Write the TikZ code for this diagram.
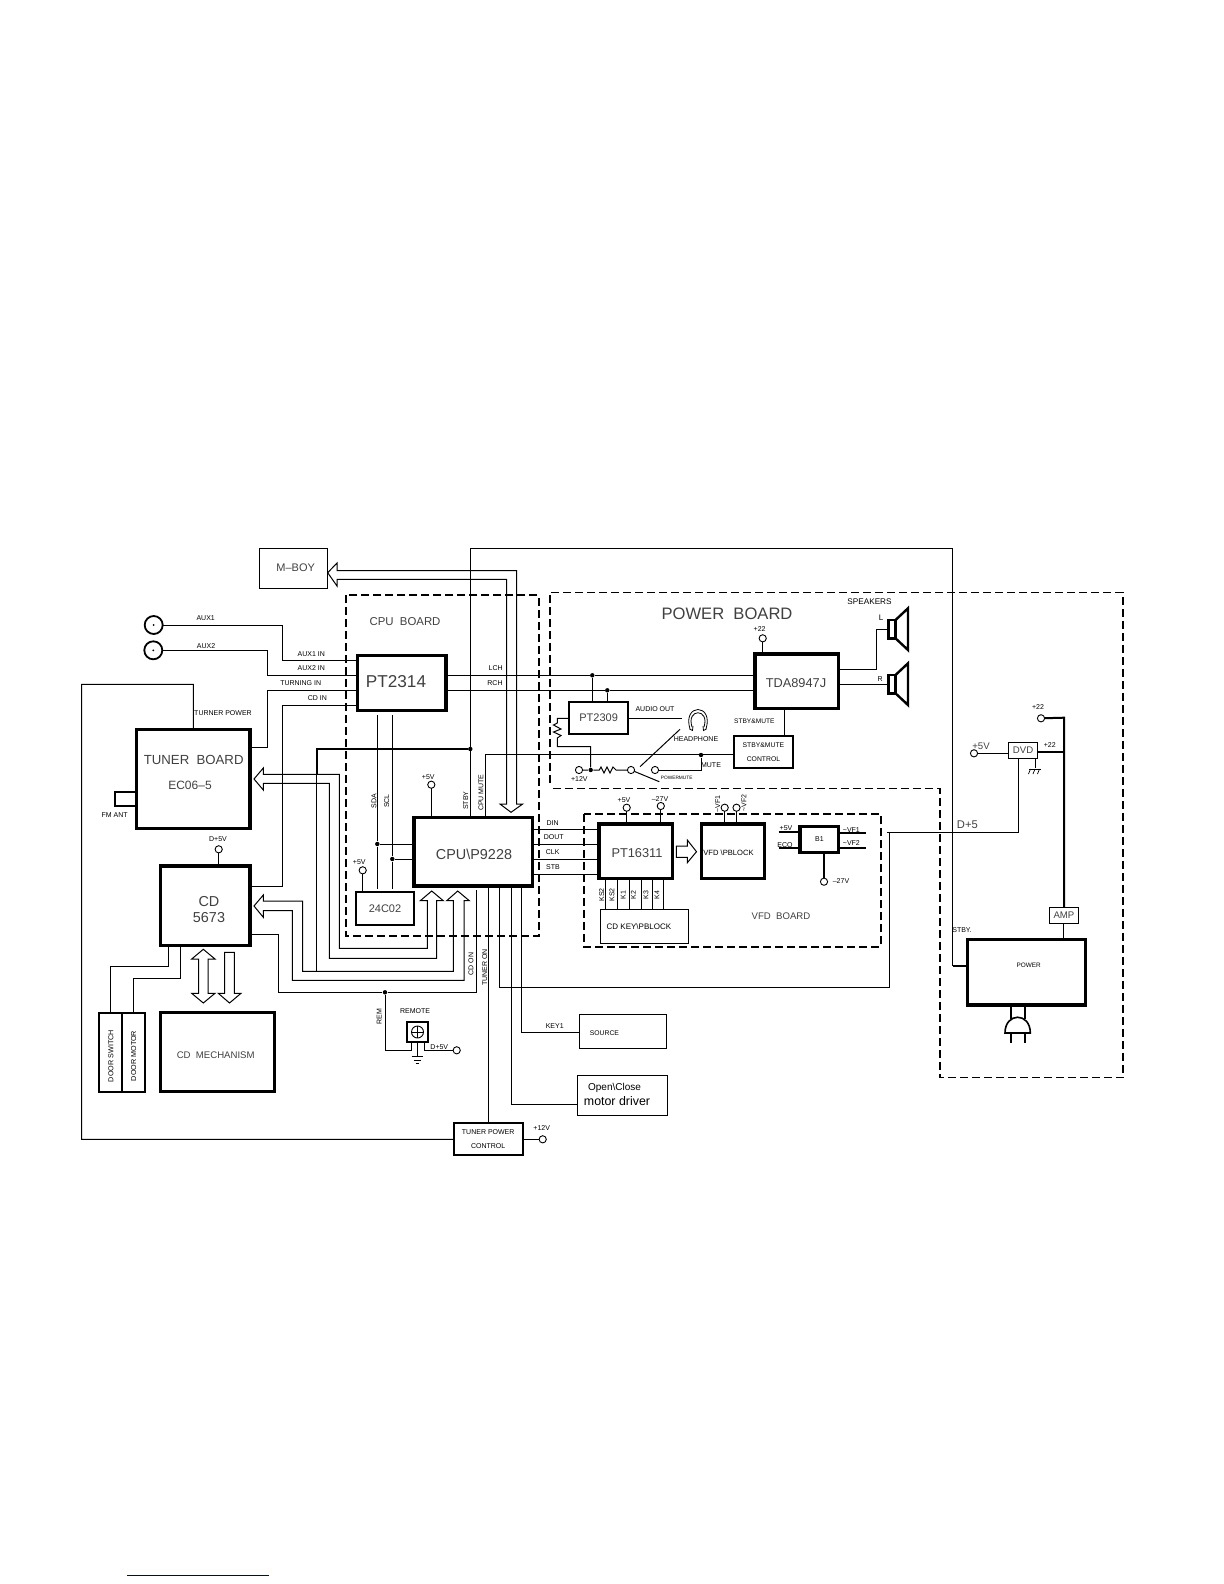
\documentclass[tikz,border=0pt]{standalone}
\usepackage{fontspec}
\setmainfont{Liberation Sans}
\usetikzlibrary{calc}

\begin{document}
\begin{tikzpicture}[
            x=0.5pt, y=-0.5pt,
            fs/.style={font=\fontsize{#1}{7}\selectfont},
            wh/.style 2 args={minimum width=#1*0.5pt, minimum height=#2*0.5pt},
            thinbox/.style={draw, line width=0.55pt, inner sep=0pt, outer sep=0pt},
            midbox/.style={draw, line width=1pt, inner sep=0pt, outer sep=0pt},
            icbox/.style={draw, line width=1.6pt, inner sep=0pt, outer sep=0pt},
            lab/.style={fs=3.5, inner sep=0pt},
            rlab/.style={fs=3.5, inner sep=0pt, rotate=90},
            big/.style={text=black!75},
            sig/.style={line width=0.5pt},
            sigthick/.style={line width=1pt},
            board/.style={dashed, dash pattern=on 4pt off 2pt, line width=1pt},
            term/.style={draw, circle, line width=0.45pt, inner sep=0pt, outer sep=0pt, minimum size=3.6pt},
            jack/.style={draw, circle, line width=0.9pt, inner sep=0pt, outer sep=0pt, minimum size=9pt},
            jdot/.style={fill, circle, inner sep=0pt, minimum size=2.2pt}
        ]
        \useasboundingbox (0,0) rectangle (1224,1584);

        % --- boards ---
        \draw[board] (346,595) rectangle (538.7,936);
        \draw[board, line width=0.7pt] (550,783) -- (550,592.3) -- (1122.8,592.3) -- (1122.8,1077.7) -- (939.8,1077.7) -- (939.8,788.3) -- (552,788.3);
        \draw[board] (583.7,814.3) rectangle (880.9,946.7);
        \node[fs=5.7, big] (CPUtxt) at (405,621.7) {CPU\ \ BOARD};
        \node[fs=8.3, big] (PWRtxt) at (727,614) {POWER\ \ BOARD};
        \node[fs=4.8, big] (VFDtxt) at (781,915.7) {VFD\ \ BOARD};

        % --- blocks ---
        \node[thinbox, fs=5.5, big, wh={68.4}{40.4}] (MBOY) at (293.5,568.5) {};
        \node[fs=5.5, big] (MBOYt) at (295.7,567.3) {M--BOY};
        \node[icbox, wh={113.3}{99}] (TUNER) at (193.35,778.8) {};
        \node[fs=6.6, big] (TUNERa) at (193.7,760) {TUNER\ \ BOARD};
        \node[fs=6, big] (TUNERb) at (190,785) {EC06--5};
        \node[icbox, wh={89.7}{79.7}] (CD) at (205.15,905.85) {};
        \node[fs=7.2, big, align=center] (CDt) at (209,910) {CD\\[1pt]5673};
        \node[midbox, wh={22.7}{79}] (DSW) at (110.65,1052.2) {};
        \node[midbox, wh={23}{79}] (DMO) at (133.5,1052.2) {};
        \node[rlab, fs=3.6] (DSWtxt) at (111,1056) {DOOR SWITCH};
        \node[rlab, fs=3.6] (DMOtxt) at (133.7,1056) {DOOR MOTOR};
        \node[icbox, wh={114.4}{79.4}] (MECH) at (217.5,1052) {};
        \node[fs=4.8, big] (MECHt) at (215.7,1055.3) {CD\ \ MECHANISM};
        \node[icbox, wh={88.3}{55.4}] (PT2314) at (401.85,683) {};
        \node[fs=8.6, big] (PT2314t) at (396,682) {PT2314};
        \node[icbox, wh={118.7}{68.7}] (CPU) at (473.35,851.65) {};
        \node[fs=7.2, big] (CPUt) at (474,854) {CPU\textbackslash P9228};
        \node[midbox, fs=5.5, big, wh={58}{32.7}] (EPROM) at (385,908.35) {24C02};
        \node[midbox, fs=5.5, big, wh={58.7}{32.6}] (PT2309) at (598.65,718) {PT2309};
        \node[icbox, fs=6.4, big, wh={83.5}{54.7}] (TDA) at (796.75,681.35) {};
        \node[fs=6.4, big] (TDAt) at (796,683) {TDA8947J};
        \node[midbox, fs=3.4, align=center, wh={59.7}{32.6}] (CTRL) at (763.45,752) {STBY\&MUTE\\CONTROL};
        \node[icbox, wh={73.6}{54.7}] (PT16311) at (635.7,851.35) {};
        \node[fs=6.4, big] (PT16311t) at (637,852.7) {PT16311};
        \node[icbox, wh={63.5}{54.7}] (VFD) at (732.95,851.35) {};
        \node[fs=3.8] (VFDt) at (728.5,852.7) {VFD \textbackslash PBLOCK};
        \node[icbox, fs=3.5, wh={38.8}{25.6}] (B1) at (819.4,839.5) {B1};
        \node[thinbox, wh={87.9}{34}] (KEYB) at (644.55,926.3) {};
        \node[fs=4] (KEYBt) at (638.9,927) {CD KEY\textbackslash PBLOCK};
        \node[thinbox, wh={87.2}{34.4}] (SOURCE) at (623.1,1031.5) {};
        \node[fs=3.4] (SRCtxt) at (604.4,1032.7) {SOURCE};
        \node[thinbox, wh={90.1}{40}] (OPEN) at (622.45,1095.3) {};
        \node[fs=5] (OPENa) at (614.5,1087.7) {Open\textbackslash Close};
        \node[fs=6.2] (OPENb) at (617,1101) {motor driver};
        \node[midbox, fs=3.5, align=center, wh={69}{32.6}] (TPC) at (488.2,1139) {TUNER POWER\\CONTROL};
        \node[icbox, wh={118.6}{65.7}] (POWER) at (1026.5,972.15) {};
        \node[fs=3.2] (POWERt) at (1028.6,965) {POWER};
        \node[thinbox, fs=4.8, big, wh={29.5}{16}] (AMP) at (1063.95,915.3) {AMP};
        \node[thinbox, fs=4.8, big, wh={29.4}{16}] (DVD) at (1023.1,750.3) {DVD};
        \node[midbox, wh={21.6}{20.6}] (REMOTE) at (417.5,1032) {};

        % --- audio inputs ---
        \node[jack] (AUXa) at (153.7,625) {};
        \node[jack] (AUXb) at (153.3,650.3) {};
        \node[jdot, minimum size=1pt] (AUXad) at (AUXa) {};
        \node[jdot, minimum size=1pt] (AUXbd) at (AUXb) {};
        \draw[sig] (AUXa) -- (282.3,625) -- (282.3,660.3) -- (PT2314.west |- 0,660.3);
        \draw[sig] (AUXb) -- (267.3,650.3) -- (267.3,675.3) -- (PT2314.west |- 0,675.3);
        \draw[sig] (TUNER.east |- 0,747.3) -- (267.3,747.3) -- (267.3,690.3) -- (PT2314.west |- 0,690.3);
        \draw[sig] (CD.east |- 0,886) -- (282.3,886) -- (282.3,705) -- (PT2314.west |- 0,705);
        \node[lab] (AUXatxt) at (205.7,617.7) {AUX1};
        \node[lab] (AUXbtxt) at (206,646.3) {AUX2};
        \node[lab] (INa) at (311.3,653.7) {AUX1 IN};
        \node[lab] (INb) at (311.3,668.3) {AUX2 IN};
        \node[lab] (INc) at (300.7,683.3) {TURNING IN};
        \node[lab] (INd) at (317.3,698.3) {CD IN};

        % --- tuner ---
        \draw[sig] (TUNER.north |- 0,729.3) -- (193.3,684.3) -- (81.7,684.3) -- (81.7,1139.3) -- (TPC.west |- 0,1139.3);
        \draw[line width=1pt] (TUNER.west |- 0,792.3) -- (115,792.3) -- (115,805.7) -- (TUNER.west |- 0,805.7);
        \node[lab] (FMtxt) at (114.7,815) {FM ANT};
        \node[lab] (TPtxt) at (223,713) {TURNER POWER};
        \node[term] (TPCv) at (542.7,1139.3) {};
        \draw[sig] (TPC.east |- TPCv) -- (TPCv);
        \node[lab] (TPCvt) at (541.7,1128.3) {+12V};

        % --- CD ---
        \node[term] (CDv) at (218.7,849.3) {};
        \draw[sig] (CDv) -- (CD.north -| CDv);
        \node[lab] (CDvt) at (218,839.3) {D+5V};
        \draw[sig] (CD.south -| 168.7,0) -- (168.7,966) -- (110.3,966) -- (DSW.north -| 110.3,0);
        \draw[sig] (CD.south -| 180.3,0) -- (180.3,978.3) -- (133.3,978.3) -- (DMO.north -| 133.3,0);
        \draw[sig] (203.3,949.3) -- (215,959) -- (208,959) -- (208,993.3) -- (215,993.3) -- (203.3,1003) -- (191.7,993.3) -- (198.7,993.3) -- (198.7,959) -- (191.7,959) -- cycle;
        \draw[sig] (224.7,952.3) -- (234.3,952.3) -- (234.3,993.3) -- (241,993.3) -- (229.5,1003) -- (218.3,993.3) -- (224.7,993.3) -- cycle;

        % --- CPU control buses ---
        \draw[sig] (427.3,900.7) -- (427.3,948.3) -- (339.3,948.3) -- (339.3,774.3) -- (263.3,774.3) -- (263.3,768) -- (254,779) -- (263.3,790) -- (263.3,783.3) -- (329.3,783.3) -- (329.3,958.3) -- (436.7,958.3) -- (436.7,900.7) -- (443.3,900.7) -- (431.7,891) -- (420.3,900.7) -- cycle;
        \draw[sig] (453.3,900.7) -- (453.3,971.3) -- (302.7,971.3) -- (302.7,901) -- (263.3,901) -- (263.3,895) -- (254,906) -- (263.3,917.3) -- (263.3,910.7) -- (292.3,910.7) -- (292.3,980.3) -- (464,980.3) -- (464,900.7) -- (469.3,900.7) -- (457.7,891) -- (446.7,900.7) -- cycle;
        \draw[sig] (511,812.3) -- (522.7,804) -- (516.5,804) -- (516.5,570.7) -- (337,570.7) -- (337,563) -- (MBOY.east |- 0,572.7) -- (337,586) -- (337,579.3) -- (506.7,579.3) -- (506.7,804) -- (500,804) -- cycle;
        \node[jdot] (STBYd) at (470.3,749) {};
        \draw[sigthick] (STBYd) -- (316.5,749) -- (316.5,774.3);
        \draw[sig] (316.5,774.3) -- (316.5,971.3);
        \draw[sig] (CPU.north -| STBYd) -- (470.3,548.3) -- (952.5,548.3) -- (952.5,966);
        \draw[sigthick] (952.5,966) -- (POWER.west |- 0,966);
        \node[rlab] (STBYt) at (465.7,800.7) {STBY};
        \node[lab] (STBYu) at (962,930) {STBY.};
        \draw[sig] (CPU.north -| 485.7,0) -- (485.7,754.3) -- (CTRL.west |- 0,754.3);
        \node[rlab] (MUTEt) at (481,792.7) {CPU MUTE};

        % --- CPU neighbours ---
        \node[term] (CPUv) at (431.3,784.7) {};
        \draw[sig] (CPUv) -- (CPU.north -| CPUv);
        \node[lab] (CPUvt) at (428.3,777) {+5V};
        \node[term] (EPv) at (362.7,870.3) {};
        \draw[sig] (EPv) -- (EPROM.north -| EPv);
        \node[lab] (EPvt) at (359.3,862.3) {+5V};
        \node[jdot] (SDAd) at (377.3,844) {};
        \node[jdot] (SCLd) at (392.3,859) {};
        \draw[sig] (377.3,715) -- (SDAd) -- (377.3,889);
        \draw[sig] (392.3,715) -- (SCLd) -- (392.3,889);
        \draw[sig] (SDAd) -- (CPU.west |- SDAd);
        \draw[sig] (SCLd) -- (CPU.west |- SCLd);
        \node[rlab] (SDAt) at (374,801) {SDA};
        \node[rlab] (SCLt) at (386.7,801) {SCL};

        % --- CPU bottom lines ---
        \node[jdot] (REMd) at (385,992.3) {};
        \draw[sig] (CD.east |- 0,934.3) -- (278.7,934.3) -- (278.7,992.3) -- (REMd) -- (476.5,992.3) -- (476.5,890);
        \draw[sig] (REMd) -- (385,1050.3) -- (411.7,1050.3) -- (REMOTE.south -| 411.7,0);
        \draw[sig] (CPU.south -| 488.3,0) -- (TPC.north -| 488.3,0);
        \draw[sig] (CPU.south -| 499.7,0) -- (499.7,987.3) -- (889.3,987.3) -- (889.3,832.3) -- (887,832.3);
        \draw[sig] (889.3,832.3) -- (1018.7,832.3) -- (DVD.south -| 1018.7,0);
        \draw[sig] (CPU.south -| 521.4,0) -- (521.4,1032.3) -- (SOURCE.west |- 0,1032.3);
        \draw[sig] (CPU.south -| 511.3,0) -- (511.3,1104.3) -- (OPEN.west |- 0,1104.3);
        \node[rlab] (CDONt) at (471,964) {CD ON};
        \node[rlab] (TUNONt) at (484.7,967.7) {TUNER ON};
        \node[lab] (KEYt) at (554.7,1026.3) {KEY1};

        % --- remote ---
        \node[draw, circle, line width=0.45pt, inner sep=0pt, minimum size=6pt] (IRc) at (REMOTE) {};
        \draw[sig] (IRc.north) -- (IRc.south);
        \draw[sig] (IRc.west) -- (IRc.east);
        \draw[sig] (REMOTE.south) -- (417.5,1056.7);
        \draw[sig] (411.7,1056.7) -- (423.3,1056.7);
        \draw[sig] (413.7,1060) -- (421.3,1060);
        \draw[sig] (415.7,1063.3) -- (419.3,1063.3);
        \node[term] (REMv) at (456.7,1050.3) {};
        \draw[sig] (REMOTE.south -| 424,0) -- (424,1050.3) -- (REMv);
        \node[lab] (REMt) at (415,1011) {REMOTE};
        \node[rlab] (REMs) at (379.3,1016.7) {REM};
        \node[lab] (REMvt) at (439.3,1046.7) {D+5V};

        % --- audio outputs ---
        \node[jdot] (LCHd) at (592.3,675.3) {};
        \node[jdot] (RCHd) at (607.3,690.3) {};
        \draw[sig] (PT2314.east |- 0,675.3) -- (LCHd) -- (TDA.west |- 0,675.3);
        \draw[sig] (PT2314.east |- 0,690.3) -- (RCHd) -- (TDA.west |- 0,690.3);
        \draw[sig] (LCHd) -- (PT2309.north -| LCHd);
        \draw[sig] (RCHd) -- (PT2309.north -| RCHd);
        \node[lab] (LCHt) at (495.7,668.3) {LCH};
        \node[lab] (RCHt) at (495,683.3) {RCH};
        \node[term] (TDAv) at (762.7,638.3) {};
        \draw[sig] (TDAv) -- (TDA.north -| TDAv);
        \node[lab] (TDAvt) at (759.6,629.3) {+22};
        \draw[sig] (TDA.east |- 0,669.3) -- (876.3,669.3) -- (876.3,629.3) -- (888.6,629.3);
        \draw[sig] (TDA.east |- 0,684.3) -- (888,684.3);
        \draw[line width=1.2pt] (888.6,620) rectangle (895.5,638.3);
        \draw[line width=1.2pt] (895.5,620) -- (908,608.3) -- (908,650) -- (895.5,638.3);
        \draw[line width=1.2pt] (888.6,675) rectangle (895.5,693.3);
        \draw[line width=1.2pt] (895.5,675) -- (908,663.3) -- (908,705) -- (895.5,693.3);
        \node[fs=4.1] (SPKt) at (869.5,601.3) {SPEAKERS};
        \node[lab, fs=4] (SPKl) at (881,617.3) {L};
        \node[lab] (SPKr) at (880.2,679.3) {R};
        \draw[sig] (TDA.south -| 784.3,0) -- (CTRL.north -| 784.3,0);
        \node[lab, fs=3.3] (SMt) at (754.3,721) {STBY\&MUTE};

        % --- headphone, mute switch ---
        \coordinate (HPin) at (681.7,718.3);
        \draw[sig] (PT2309.east |- HPin) -- (HPin);
        \node[lab] (AOt) at (655,709.3) {AUDIO OUT};
        \node[lab] (HPt) at (696,739.3) {HEADPHONE};
        \draw[line width=0.4pt] (690,729) .. controls (682,703) and (714,703) .. (706,729);
        \draw[line width=0.4pt] (692,727) .. controls (686,708) and (710,708) .. (704,727);
        \draw[line width=0.4pt] (689.5,729) -- (692.5,730.5) -- (693,726);
        \draw[line width=0.4pt] (706.5,729) -- (703.5,730.5) -- (703,726);
        \node[term] (Va) at (579,770) {};
        \node[jdot] (Vd) at (590.7,770) {};
        \node[term] (SWa) at (631,770) {};
        \node[term] (SWb) at (655,770) {};
        \node[jdot] (MUTEd) at (701,755) {};
        \draw[sig] (Va) -- (Vd) -- (599.3,770) -- (601,767) -- (604,773) -- (607,767) -- (610,773) -- (613,767) -- (616,770) -- (SWa);
        \draw[sig] (PT2309.west |- 0,718.3) -- (557.3,718.3) -- (557.3,723) -- (553.5,725) -- (561,729) -- (553.5,732) -- (561,735.5) -- (557.3,738) -- (557.3,746.7) -- (590.7,746.7) -- (Vd);
        \draw[sig] (SWb) -- (701,770) -- (MUTEd);
        \draw[sig] (640,766.7) -- (680,729.3);
        \draw[sig] (SWa) -- (659.3,781.7);
        \node[lab] (Vt) at (579.3,778.7) {+12V};
        \node[lab, fs=2.4] (PMt) at (676.7,778) {POWERMUTE};
        \node[lab] (MUt) at (711,765.3) {MUTE};

        % --- VFD board ---
        \draw[sig] (CPU.east |- 0,829.3) -- (PT16311.west |- 0,829.3);
        \draw[sig] (CPU.east |- 0,844.3) -- (PT16311.west |- 0,844.3);
        \draw[sig] (CPU.east |- 0,859.3) -- (PT16311.west |- 0,859.3);
        \draw[sig] (CPU.east |- 0,874.3) -- (PT16311.west |- 0,874.3);
        \node[lab] (DINt) at (552.7,822.7) {DIN};
        \node[lab] (DOUTt) at (553.7,837.3) {DOUT};
        \node[lab] (CLKt) at (552.7,852.3) {CLK};
        \node[lab] (STBt) at (553,867) {STB};
        \node[term] (PTva) at (626.7,807.7) {};
        \node[term] (PTvb) at (660.8,806) {};
        \draw[sig] (PTva) -- (PT16311.north -| PTva);
        \draw[sig] (PTvb) -- (PT16311.north -| PTvb);
        \node[lab] (PTvat) at (624,800) {+5V};
        \node[lab] (PTvbt) at (660,798.7) {--27V};
        \node[term] (VFva) at (724.7,807.7) {};
        \node[term] (VFvb) at (736.5,807.7) {};
        \draw[sig] (VFva) -- (VFD.north -| VFva);
        \draw[sig] (VFvb) -- (VFD.north -| VFvb);
        \node[rlab] (VFvat) at (717.6,804) {\textasciitilde VF1};
        \node[rlab] (VFvbt) at (744,803) {\textasciitilde VF2};
        \draw[sig] (676.3,846) -- (687.3,846) -- (687.3,840) -- (696.5,851.7) -- (687.3,862.7) -- (687.3,857.3) -- (676.3,857.3) -- cycle;
        \draw[sig] (PT16311.south -| 605.2,0) -- (KEYB.north -| 605.2,0);
        \draw[sig] (PT16311.south -| 617,0) -- (KEYB.north -| 617,0);
        \draw[sig] (PT16311.south -| 629.6,0) -- (KEYB.north -| 629.6,0);
        \draw[sig] (PT16311.south -| 641.4,0) -- (KEYB.north -| 641.4,0);
        \draw[sig] (PT16311.south -| 652.8,0) -- (KEYB.north -| 652.8,0);
        \draw[sig] (PT16311.south -| 663.7,0) -- (KEYB.north -| 663.7,0);
        \node[rlab] (KSa) at (601.8,895) {KS2};
        \node[rlab] (KSb) at (612,895) {KS2};
        \node[rlab] (KAa) at (623.3,895) {K1};
        \node[rlab] (KAb) at (633.4,895) {K2};
        \node[rlab] (KAc) at (646,895) {K3};
        \node[rlab] (KAd) at (657,895) {K4};
        \coordinate (B1a) at (778.6,832);
        \coordinate (B1b) at (778.6,848.3);
        \coordinate (B1c) at (866,833.3);
        \coordinate (B1d) at (866,847.7);
        \draw[sigthick] (B1a) -- (B1.west |- B1a);
        \draw[sigthick] (B1b) -- (B1.west |- B1b);
        \draw[sigthick] (B1.east |- B1c) -- (B1c);
        \draw[sigthick] (B1.east |- B1d) -- (B1d);
        \node[term] (B1v) at (824,881.7) {};
        \draw[sigthick] (B1.south -| B1v) -- (B1v);
        \node[lab] (B1vt) at (841,880.7) {--27V};
        \node[lab] (B1at) at (786,828) {+5V};
        \node[lab] (B1bt) at (785,845) {ECO};
        \node[lab] (B1ct) at (851.4,830) {\textasciitilde VF1};
        \node[lab] (B1dt) at (851.4,842.7) {\textasciitilde VF2};

        % --- supply ---
        \node[term] (SUPa) at (1041,718.3) {};
        \draw[line width=0.5pt] (POWER.north -| AMP) -- (AMP);
        \draw[line width=1pt] (SUPa) -- (1064,717.7) -- (AMP.north -| 1064,0);
        \draw[line width=1pt] (DVD.east |- 0,751.7) -- (1064,751.7);
        \node[lab] (SUPat) at (1038,707) {+22};
        \node[lab] (SUPbt) at (1049.7,745) {+22};
        \node[term] (DVDv) at (974,753.3) {};
        \draw[sig] (DVDv) -- (DVD.west |- DVDv);
        \node[fs=4.8, big, inner sep=0pt] (DVDvt) at (981,746) {+5V};
        \node[fs=5.6, big, inner sep=0pt] (DPt) at (967.4,825) {D+5};
        \coordinate (GNDt) at (1035,768);
        \draw[sig] (DVD.south -| GNDt) -- (GNDt);
        \draw[line width=0.35pt] (1029,769) -- (1041,769);
        \draw[line width=0.35pt] (1030.5,769) -- (1028.5,774);
        \draw[line width=0.35pt] (1035,769) -- (1033,774);
        \draw[line width=0.35pt] (1039.5,769) -- (1037.5,774);

        % --- mains plug ---
        \draw[line width=0.8pt] (POWER.south -| 1011,0) -- (1011,1018.5);
        \draw[line width=0.8pt] (POWER.south -| 1024.8,0) -- (1024.8,1018.5);
        \draw[line width=0.8pt] (1005,1033) .. controls (1005,1012) and (1030.3,1012) .. (1030.3,1033) -- cycle;
        \draw[line width=0.8pt] (1011,1033) -- (1011,1043.3);
        \draw[line width=0.8pt] (1024.8,1033) -- (1024.8,1043.3);

        % --- rule at page foot ---
        \draw[line width=0.5pt, color={rgb,255:red,0;green,0;blue,128}] (127,1575.3) -- (269,1575.3);
    \end{tikzpicture}
\end{document}
